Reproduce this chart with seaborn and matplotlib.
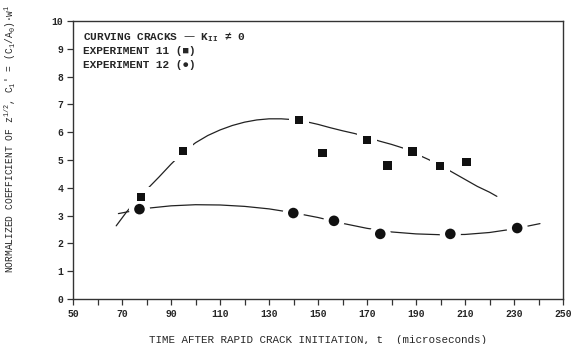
import numpy as np
import pandas as pd
import seaborn as sns
import matplotlib.pyplot as plt

# measured points
exp11_t = [77.8, 94.8, 142.2, 151.9, 169.9, 178.3, 188.5, 199.8, 210.7]
exp11_c = [3.67, 5.33, 6.44, 5.25, 5.72, 4.81, 5.30, 4.78, 4.92]
exp12_t = [77.1, 139.9, 156.5, 175.4, 204.0, 231.3]
exp12_c = [3.23, 3.09, 2.81, 2.34, 2.34, 2.55]

# fitted curves
fit11_t = [67.6, 72, 76, 80, 85, 90, 95, 100, 105, 110, 115, 120, 125, 130, 135,
           140, 145, 150, 155, 160, 165, 170, 175, 180, 185, 190, 195, 200, 205,
           210, 215, 220, 223]
fit11_c = [2.63, 3.15, 3.55, 3.93, 4.38, 4.85, 5.28, 5.62, 5.88, 6.08, 6.24, 6.36,
           6.44, 6.48, 6.48, 6.45, 6.38, 6.28, 6.16, 6.05, 5.95, 5.82, 5.68, 5.56,
           5.42, 5.22, 5.02, 4.80, 4.55, 4.30, 4.05, 3.84, 3.69]
fit12_t = [68.5, 75, 80, 90, 100, 110, 120, 130, 140, 150, 160, 170, 180, 190,
           200, 210, 220, 230, 240.6]
fit12_c = [3.07, 3.18, 3.26, 3.35, 3.39, 3.38, 3.33, 3.24, 3.10, 2.93, 2.72, 2.54,
           2.41, 2.34, 2.31, 2.32, 2.39, 2.52, 2.71]

fit11 = pd.DataFrame({'t': fit11_t, 'c': fit11_c})
fit12 = pd.DataFrame({'t': fit12_t, 'c': fit12_c})
exp11 = pd.DataFrame({'t': exp11_t, 'c': exp11_c})
exp12 = pd.DataFrame({'t': exp12_t, 'c': exp12_c})

sns.set_style('ticks')
plt.rcParams['font.family'] = ['Liberation Mono', 'DejaVu Sans']
plt.rcParams['font.weight'] = 'bold'
plt.rcParams['mathtext.default'] = 'regular'

fig = plt.figure(figsize=(5.71, 3.44), dpi=100)
ax = fig.add_axes([0.128, 0.131, 0.858, 0.808])

sns.lineplot(data=fit11, x='t', y='c', ax=ax, color='#222222', lw=0.9, sort=False)
sns.lineplot(data=fit12, x='t', y='c', ax=ax, color='#222222', lw=0.9, sort=False)

# white halo so the curves break around the markers
sns.scatterplot(data=exp11, x='t', y='c', ax=ax, marker='s', s=200, color='white',
                edgecolor='none', zorder=3)
sns.scatterplot(data=exp12, x='t', y='c', ax=ax, marker='o', s=230, color='white',
                edgecolor='none', zorder=3)
sns.scatterplot(data=exp11, x='t', y='c', ax=ax, marker='s', s=38, color='#111111',
                edgecolor='none', zorder=4)
sns.scatterplot(data=exp12, x='t', y='c', ax=ax, marker='o', s=58, color='#111111',
                edgecolor='none', zorder=4)

ax.set_xlim(50, 250)
ax.set_ylim(0, 10)
ax.set_xticks(np.arange(50, 251, 10))
ax.set_xticklabels([str(v) if (v - 50) % 20 == 0 else '' for v in range(50, 251, 10)])
ax.set_yticks(range(0, 11))
ax.tick_params(labelsize=7, width=0.9, length=4, color='#333333', pad=3)
for s in ax.spines.values():
    s.set_visible(True)
    s.set_linewidth(1.0)
    s.set_color('#333333')

ax.set_xlabel('TIME AFTER RAPID CRACK INITIATION, t  (microseconds)', fontsize=7.8,
              labelpad=12)
ax.set_ylabel("NORMALIZED COEFFICIENT OF z$^{1/2}$, C$_1$' = (C$_1$/A$_0$)·w$^1$",
              fontsize=6.9)
ax.yaxis.set_label_coords(-0.112, 0.576)

ax.text(0.02, 0.941, 'CURVING CRACKS — K$_{II}$ ≠ 0', transform=ax.transAxes,
        fontsize=8, va='center')
ax.text(0.02, 0.891, 'EXPERIMENT 11 (■)', transform=ax.transAxes, fontsize=8,
        va='center')
ax.text(0.02, 0.840, 'EXPERIMENT 12 (●)', transform=ax.transAxes, fontsize=8,
        va='center')

fig.savefig('out.png', dpi=100)
